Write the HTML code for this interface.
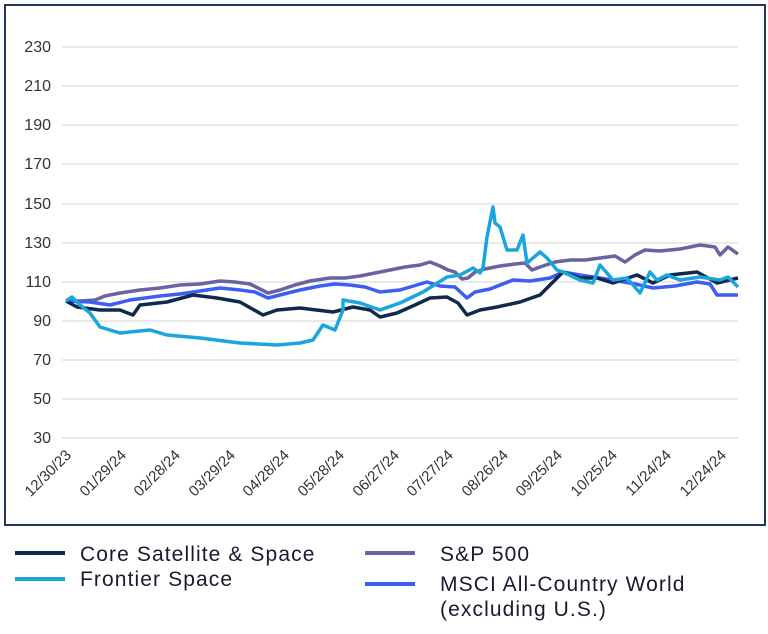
<!DOCTYPE html><html><head><style>
body{margin:0;background:#fff;width:768px;height:629px;overflow:hidden;font-family:"Liberation Sans",sans-serif}
</style></head><body>
<svg width="768" height="629" xmlns="http://www.w3.org/2000/svg" font-family="Liberation Sans, sans-serif">
<rect x="5" y="5" width="760" height="520" fill="#fff" stroke="#1d3b5c" stroke-width="2"/>
<g stroke="#dcdcdc" stroke-width="1.2">
<line x1="62" x2="738" y1="47" y2="47"/><line x1="62" x2="738" y1="86" y2="86"/><line x1="62" x2="738" y1="125" y2="125"/><line x1="62" x2="738" y1="164" y2="164"/><line x1="62" x2="738" y1="204" y2="204"/><line x1="62" x2="738" y1="243" y2="243"/><line x1="62" x2="738" y1="282" y2="282"/><line x1="62" x2="738" y1="321" y2="321"/><line x1="62" x2="738" y1="360" y2="360"/><line x1="62" x2="738" y1="399" y2="399"/><line x1="62" x2="738" y1="438" y2="438"/>
</g>
<g font-size="16" fill="#333" text-anchor="end">
<text x="51" y="52">230</text><text x="51" y="91">210</text><text x="51" y="130">190</text><text x="51" y="169">170</text><text x="51" y="209">150</text><text x="51" y="248">130</text><text x="51" y="287">110</text><text x="51" y="326">90</text><text x="51" y="365">70</text><text x="51" y="404">50</text><text x="51" y="443">30</text>
</g>
<g font-size="15" fill="#333" text-anchor="end">
<text transform="translate(72,456) rotate(-45)">12/30/23</text>
<text transform="translate(127,456) rotate(-45)">01/29/24</text>
<text transform="translate(181,456) rotate(-45)">02/28/24</text>
<text transform="translate(236,456) rotate(-45)">03/29/24</text>
<text transform="translate(290,456) rotate(-45)">04/28/24</text>
<text transform="translate(345,456) rotate(-45)">05/28/24</text>
<text transform="translate(400,456) rotate(-45)">06/27/24</text>
<text transform="translate(454,456) rotate(-45)">07/27/24</text>
<text transform="translate(509,456) rotate(-45)">08/26/24</text>
<text transform="translate(563,456) rotate(-45)">09/25/24</text>
<text transform="translate(618,456) rotate(-45)">10/25/24</text>
<text transform="translate(672,456) rotate(-45)">11/24/24</text>
<text transform="translate(727,456) rotate(-45)">12/24/24</text>
</g>
<g fill="none" stroke-width="3.5" stroke-linejoin="round">
<polyline stroke="#6b63a0" points="66,301 80,301 95,300 105,296 120,293 140,290 160,288 180,285 200,284 220,281 235,282 250,284 262,290 268,293 280,290 295,285 310,281 330,278 345,278 360,276 375,273 390,270 405,267 420,265 430,262 440,266 448,270 455,272 462,279 468,278 475,272 485,269 500,266 515,264 525,263 532,270 540,267 555,262 570,260 585,260 600,258 615,256 625,262 635,255 645,250 660,251 680,249 700,245 715,247 720,255 728,247 738,254"/>
<polyline stroke="#3d5ef0" points="66,301 90,302 110,305 130,300 160,296 180,294 200,291 220,288 240,290 255,292 268,298 280,295 300,290 320,286 335,284 350,285 365,287 380,292 400,290 427,282 440,286 455,287 467,298 475,292 490,289 513,280 530,281 550,278 563,272 580,275 613,280 635,284 653,288 675,286 697,282 710,284 717,295 738,295"/>
<polyline stroke="#0f2a4a" points="66,301 77,307 100,310 120,310 133,315 140,305 167,302 193,295 217,298 240,302 263,315 277,310 300,308 333,312 353,307 370,310 380,317 397,313 415,305 430,298 447,297 458,303 467,315 480,310 497,307 520,302 540,295 563,272 580,278 597,278 613,283 637,275 653,283 670,275 697,272 717,283 738,278"/>
<polyline stroke="#1aa6dc" points="66,301 72,297 80,305 90,313 100,327 120,333 150,330 167,335 200,338 240,343 277,345 300,343 313,340 323,325 335,330 343,310 343,300 360,303 380,310 400,303 423,292 447,277 460,275 473,268 480,273 483,268 487,237 493,207 495,223 500,227 507,250 517,250 523,235 527,263 540,252 547,258 557,270 563,272 580,280 593,283 600,265 613,280 627,278 640,293 650,272 657,280 667,275 680,280 700,277 720,280 728,277 738,287"/>
</g>
<g stroke-width="4">
<line x1="15" x2="65" y1="553" y2="553" stroke="#0f2a4a"/>
<line x1="15" x2="65" y1="579" y2="579" stroke="#1aa6dc"/>
<line x1="365" x2="415" y1="553" y2="553" stroke="#6b63a0"/>
<line x1="365" x2="415" y1="584" y2="584" stroke="#3d5ef0"/>
</g>
<g font-size="21" fill="#1a1a2e" letter-spacing="1.1">
<text x="80" y="561">Core Satellite &amp; Space</text>
<text x="80" y="586">Frontier Space</text>
<text x="440" y="561">S&amp;P 500</text>
<text x="440" y="591">MSCI All-Country World</text>
<text x="440" y="616">(excluding U.S.)</text>
</g>
</svg>
</body></html>
